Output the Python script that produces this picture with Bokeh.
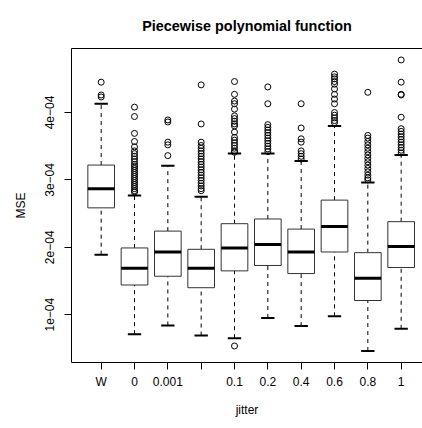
from bokeh.plotting import figure
from bokeh.models import Range1d, FixedTicker, LinearAxis, ColumnDataSource
from bokeh.embed import file_html
from bokeh.resources import INLINE

# ---- data (values in units of 1e-4) ----
categories = ["W", "0", "0.001", "0.01", "0.1", "0.2", "0.4", "0.6", "0.8", "1"]
tick_labels = ["W", "0", "0.001", "", "0.1", "0.2", "0.4", "0.6", "0.8", "1"]
SCALE = 1e-4
q1 = [2.585, 1.44, 1.57, 1.40, 1.65, 1.73, 1.61, 1.93, 1.21, 1.70]
median = [2.87, 1.69, 1.93, 1.69, 1.99, 2.04, 1.93, 2.31, 1.54, 2.01]
q3 = [3.22, 1.99, 2.24, 1.97, 2.35, 2.42, 2.27, 2.70, 1.92, 2.38]
whisker_lo = [1.89, 0.71, 0.84, 0.69, 0.65, 0.95, 0.83, 0.975, 0.46, 0.79]
whisker_hi = [4.13, 2.77, 3.21, 2.75, 3.39, 3.39, 3.28, 3.80, 2.96, 3.37]

out_W = [4.45, 4.26, 4.23]
out_0 = [4.08, 3.94, 3.69, 3.57, 3.49, 3.43, 3.39, 3.35, 3.31, 3.27, 3.23, 3.20,
         3.17, 3.14, 3.11, 3.08, 3.05, 3.02, 2.99, 2.96, 2.93, 2.90, 2.87, 2.84, 2.82]
out_0001 = [3.89, 3.86, 3.56, 3.52, 3.36]
out_001 = [4.41, 3.83, 3.56, 3.51, 3.47, 3.43, 3.39, 3.35, 3.31, 3.27, 3.23, 3.19,
           3.15, 3.11, 3.07, 3.03, 2.99, 2.95, 2.91, 2.87, 2.84]
out_01 = [4.46, 4.27, 4.17, 4.13, 4.05, 3.95, 3.91, 3.87, 3.83, 3.80, 3.71, 3.63,
          3.59, 3.55, 3.51, 3.47, 3.43, 3.41, 0.535]
out_02 = [4.38, 4.13, 3.82, 3.78, 3.74, 3.70, 3.66, 3.62, 3.58, 3.54, 3.50, 3.46, 3.42]
out_04 = [4.13, 3.77, 3.61, 3.56, 3.43, 3.39, 3.35, 3.31]
out_06 = [4.57, 4.53, 4.50, 4.46, 4.42, 4.35, 4.27, 4.20, 4.13, 4.00, 3.96, 3.92, 3.88, 3.85]
out_08 = [4.30, 3.66, 3.62, 3.57, 3.52, 3.47, 3.42, 3.37, 3.32, 3.27, 3.22, 3.17,
          3.12, 3.07, 3.03, 3.00]
out_1 = [4.78, 4.45, 4.27, 4.26, 3.93, 3.76, 3.72, 3.68, 3.64, 3.60, 3.56, 3.52,
         3.48, 3.44, 3.40]
outliers = [out_W, out_0, out_0001, out_001, out_01, out_02, out_04, out_06, out_08, out_1]

y_ticks = [1e-4, 2e-4, 3e-4, 4e-4]
y_tick_labels = ["1e\u221204", "2e\u221204", "3e\u221204", "4e\u221204"]

FONT = "Liberation Sans"
BOX_W = 0.8
CAP_W = 0.4

xs = list(range(1, len(categories) + 1))
src = ColumnDataSource(dict(
    x=xs,
    q1=[v * SCALE for v in q1],
    med=[v * SCALE for v in median],
    q3=[v * SCALE for v in q3],
    lo=[v * SCALE for v in whisker_lo],
    hi=[v * SCALE for v in whisker_hi],
    bl=[x - BOX_W / 2 for x in xs],
    br=[x + BOX_W / 2 for x in xs],
    cl=[x - CAP_W / 2 for x in xs],
    cr=[x + CAP_W / 2 for x in xs],
))
ox, oy = [], []
for x, vals in zip(xs, outliers):
    for v in vals:
        ox.append(x)
        oy.append(v * SCALE)

p = figure(width=422, height=428, output_backend="svg", toolbar_location=None,
           x_range=Range1d(0.11, 10.64), y_range=Range1d(0.29e-4, 4.95e-4),
           min_border_left=71, min_border_right=0, min_border_top=48, min_border_bottom=66,
           title="Piecewise polynomial function")
p.outline_line_color = None
p.background_fill_color = "white"
p.border_fill_color = "white"
p.xgrid.visible = False
p.ygrid.visible = False

p.title.text_font = FONT
p.title.text_font_size = "14.4px"
p.title.text_font_style = "bold"
p.title.text_color = "black"
p.title.align = "center"
p.title.offset = 4
p.title.standoff = 29

# whiskers (dashed)
p.segment(x0="x", x1="x", y0="q3", y1="hi", source=src, line_color="black",
          line_width=1, line_dash="4 4")
p.segment(x0="x", x1="x", y0="lo", y1="q1", source=src, line_color="black",
          line_width=1, line_dash="4 4")
# caps
p.segment(x0="cl", x1="cr", y0="hi", y1="hi", source=src, line_color="black", line_width=2)
p.segment(x0="cl", x1="cr", y0="lo", y1="lo", source=src, line_color="black", line_width=2)
# boxes
p.quad(left="bl", right="br", top="q3", bottom="q1", source=src, fill_color="white",
       line_color="#333333", line_width=1)
# medians
p.segment(x0="bl", x1="br", y0="med", y1="med", source=src, line_color="black", line_width=3)
# outliers
p.scatter(ox, oy, marker="circle", size=6, fill_color=None, line_color="black", line_width=1)

# axes
xa = p.xaxis[0]
xa.ticker = FixedTicker(ticks=xs)
xa.major_label_overrides = {x: lab for x, lab in zip(xs, tick_labels)}
xa.axis_label = "jitter"
ya = p.yaxis[0]
ya.ticker = FixedTicker(ticks=y_ticks)
ya.major_label_overrides = {t: lab for t, lab in zip(y_ticks, y_tick_labels)}
ya.axis_label = "MSE"
ya.major_label_orientation = "vertical"
for ax in (xa, ya):
    ax.axis_line_color = "black"
    ax.major_tick_line_color = "black"
    ax.major_tick_out = 7
    ax.major_tick_in = 0
    ax.minor_tick_line_color = None
    ax.major_label_text_font = FONT
    ax.major_label_text_font_size = "12px"
    ax.major_label_text_color = "black"
    ax.axis_label_text_font = FONT
    ax.axis_label_text_font_size = "12px"
    ax.axis_label_text_font_style = "normal"
    ax.axis_label_text_color = "black"
xa.major_label_standoff = 5
xa.axis_label_standoff = 11
ya.major_label_standoff = 10
ya.axis_label_standoff = 15

top = LinearAxis(ticker=FixedTicker(ticks=[]), axis_line_color="black",
                 major_tick_line_color=None, minor_tick_line_color=None,
                 major_label_text_font_size="0px", major_tick_out=0, major_label_standoff=0)
p.add_layout(top, "above")

open("out.html", "w").write(file_html(p, INLINE))
